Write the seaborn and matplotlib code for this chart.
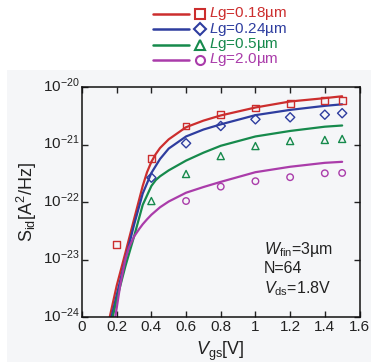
import matplotlib
matplotlib.use("Agg")
import matplotlib.pyplot as plt
import matplotlib.transforms as mtransforms
from matplotlib.lines import Line2D
from matplotlib.patches import Rectangle
import seaborn as sns
import pandas as pd
import numpy as np

sns.set_style("ticks")
plt.rcParams['font.family'] = ['Liberation Sans', 'DejaVu Sans']
plt.rcParams['mathtext.fontset'] = 'custom'
plt.rcParams['mathtext.rm'] = 'Liberation Sans'
plt.rcParams['mathtext.it'] = 'Liberation Sans:italic'
plt.rcParams['mathtext.default'] = 'regular'

# ---- data ----
series = ["0.18", "0.24", "0.5", "2.0"]
labels = [r"$\mathit{L}$g=0.18µm", r"$\mathit{L}$g=0.24µm", r"$\mathit{L}$g=0.5µm", r"$\mathit{L}$g=2.0µm"]
colors = ["#cc2e2e", "#2e3d9f", "#168a4c", "#aa3caa"]
markers = ["s", "D", "^", "o"]

# model (lines)
line_x_018 = [0.16, 0.2, 0.25, 0.3, 0.35, 0.375, 0.4, 0.425, 0.45, 0.5, 0.6, 0.7, 0.8, 1.0, 1.2, 1.4, 1.5]
line_y_018 = [1.0e-24, 3.5e-24, 1.3e-23, 5.0e-23, 1.9e-22, 3.3e-22, 5.0e-22, 6.8e-22, 8.7e-22, 1.23e-21, 2.0e-21, 2.6e-21, 3.2e-21, 4.4e-21, 5.6e-21, 6.4e-21, 6.9e-21]
line_x_024 = [0.17, 0.2, 0.25, 0.3, 0.35, 0.4, 0.45, 0.5, 0.6, 0.7, 0.8, 1.0, 1.2, 1.4, 1.5]
line_y_024 = [1.0e-24, 2.4e-24, 1.0e-23, 4.0e-23, 1.4e-22, 3.2e-22, 5.6e-22, 8.5e-22, 1.38e-21, 1.82e-21, 2.24e-21, 3.24e-21, 4.0e-21, 4.7e-21, 5.0e-21]
line_x_05 = [0.177, 0.2, 0.25, 0.3, 0.35, 0.4, 0.425, 0.45, 0.5, 0.6, 0.7, 0.8, 1.0, 1.2, 1.4, 1.5]
line_y_05 = [1.0e-24, 2.0e-24, 7.6e-24, 2.5e-23, 8.9e-23, 1.9e-22, 2.4e-22, 2.8e-22, 3.55e-22, 5.25e-22, 7.2e-22, 9.5e-22, 1.38e-21, 1.72e-21, 2.04e-21, 2.14e-21]
line_x_20 = [0.192, 0.22, 0.25, 0.27, 0.3, 0.33, 0.35, 0.375, 0.4, 0.45, 0.5, 0.6, 0.7, 0.8, 1.0, 1.2, 1.4, 1.5]
line_y_20 = [1.0e-24, 3.5e-24, 1.0e-23, 1.6e-23, 2.5e-23, 3.4e-23, 4.1e-23, 5.0e-23, 6.0e-23, 8.1e-23, 1.02e-22, 1.45e-22, 1.82e-22, 2.24e-22, 3.3e-22, 4.1e-22, 4.8e-22, 5.0e-22]

# measured (markers)
meas_x_018 = [0.2, 0.4, 0.6, 0.8, 1.0, 1.2, 1.4, 1.5]
meas_y_018 = [1.84e-23, 5.8e-22, 2.1e-21, 3.3e-21, 4.3e-21, 5.2e-21, 5.9e-21, 5.9e-21]
meas_x_024 = [0.4, 0.6, 0.8, 1.0, 1.2, 1.4, 1.5]
meas_y_024 = [2.65e-22, 1.05e-21, 2.1e-21, 2.74e-21, 2.97e-21, 3.3e-21, 3.5e-21]
meas_x_05 = [0.4, 0.6, 0.8, 1.0, 1.2, 1.4, 1.5]
meas_y_05 = [1.04e-22, 3.07e-22, 6.3e-22, 9.4e-22, 1.15e-21, 1.2e-21, 1.25e-21]
meas_x_20 = [0.6, 0.8, 1.0, 1.2, 1.4, 1.5]
meas_y_20 = [1.04e-22, 1.85e-22, 2.3e-22, 2.7e-22, 3.16e-22, 3.2e-22]

x_ticks = [0, 0.2, 0.4, 0.6, 0.8, 1.0, 1.2, 1.4, 1.6]
x_ticklabels = ["0", "0.2", "0.4", "0.6", "0.8", "1", "1.2", "1.4", "1.6"]
y_ticks = [1e-24, 1e-23, 1e-22, 1e-21, 1e-20]
y_ticklabels = [r"$10^{-24}$", r"$10^{-23}$", r"$10^{-22}$", r"$10^{-21}$", r"$10^{-20}$"]

lines_df = pd.concat([
    pd.DataFrame({"Vgs": x, "Sid": y, "Lg": s})
    for x, y, s in zip([line_x_018, line_x_024, line_x_05, line_x_20],
                       [line_y_018, line_y_024, line_y_05, line_y_20], series)
], ignore_index=True)
meas_df = pd.concat([
    pd.DataFrame({"Vgs": x, "Sid": y, "Lg": s})
    for x, y, s in zip([meas_x_018, meas_x_024, meas_x_05, meas_x_20],
                       [meas_y_018, meas_y_024, meas_y_05, meas_y_20], series)
], ignore_index=True)

W, H = 371, 362
fig = plt.figure(figsize=(W / 100, H / 100), dpi=100)
fig.patch.set_facecolor("white")
fig.patches.append(Rectangle((7 / W, 0), 1 - 7 / W, 1 - 70 / H, transform=fig.transFigure,
                             facecolor="#f5f6f8", edgecolor="none", zorder=-10))

ax = fig.add_axes([82 / W, 1 - 317 / H, (359.5 - 82) / W, (317 - 87) / H])
ax.set_facecolor("#f5f6f8")
ax.set_yscale("log")

pal = dict(zip(series, colors))
sns.lineplot(data=lines_df, x="Vgs", y="Sid", hue="Lg", palette=pal, hue_order=series,
             linewidth=1.6, legend=False, ax=ax, sort=False, estimator=None)
for s, c, m in zip(series, colors, markers):
    sub = meas_df[meas_df["Lg"] == s]
    size = {"s": 24, "D": 22, "^": 26, "o": 22}[m]
    sns.scatterplot(data=sub, x="Vgs", y="Sid", marker=m, s=size,
                    facecolors="none", edgecolor=c, linewidth=1.0, legend=False, ax=ax, zorder=5)

ax.set_xlim(0, 1.6)
ax.set_ylim(1e-24, 1e-20)
ax.set_xticks(x_ticks)
ax.set_xticklabels(x_ticklabels)
ax.set_yticks(y_ticks)
ax.set_yticklabels(y_ticklabels)
ax.yaxis.set_minor_locator(matplotlib.ticker.NullLocator())
ax.tick_params(which="major", direction="in", length=4.5, width=1.0, top=True, right=True,
               labelsize=11, colors="#222222", pad=2.5)
ax.tick_params(axis="y", pad=1.5)
for sp in ax.spines.values():
    sp.set_linewidth(1.1)
    sp.set_color("#111111")

# nudge y tick labels slightly upward, as in the reference
offset = mtransforms.ScaledTranslation(0, 3 / 100, fig.dpi_scale_trans)
for lab in ax.get_yticklabels():
    lab.set_transform(lab.get_transform() + offset)

ax.set_xlabel(r"$\mathit{V}_{\rm gs}$[V]", fontsize=13, labelpad=4, color="#222222")
ax.set_ylabel(r"$S_{\rm id}$[A$^2$/Hz]", fontsize=13, labelpad=3, color="#222222")

ax.text(0.655, 0.275, r"$\mathit{W}_{\rm fin}$=3µm", transform=ax.transAxes, fontsize=11.5, color="#222222")
ax.text(0.655, 0.19, "N=64", transform=ax.transAxes, fontsize=11.5, color="#222222")
ax.text(0.655, 0.105, r"$\mathit{V}_{\rm ds}$=1.8V", transform=ax.transAxes, fontsize=11.5, color="#222222")

# legend (drawn at top, outside the axes)
rows_y = [13.5, 29, 44.5, 60]
for yy, lab, c, m in zip(rows_y, labels, colors, markers):
    yf = 1 - yy / H
    fig.add_artist(Line2D([153 / W, 189 / W], [yf, yf], color=c, lw=1.8, transform=fig.transFigure))
    fig.add_artist(Line2D([200 / W], [yf], marker=m, markersize=6.5 if m != "D" else 5.8,
                          markerfacecolor="none", markeredgecolor=c, markeredgewidth=1.5,
                          linestyle="none", transform=fig.transFigure))
    fig.text(209 / W, yf, lab, color=c, fontsize=11, va="center", ha="left")

fig.savefig("out.png", dpi=100)
